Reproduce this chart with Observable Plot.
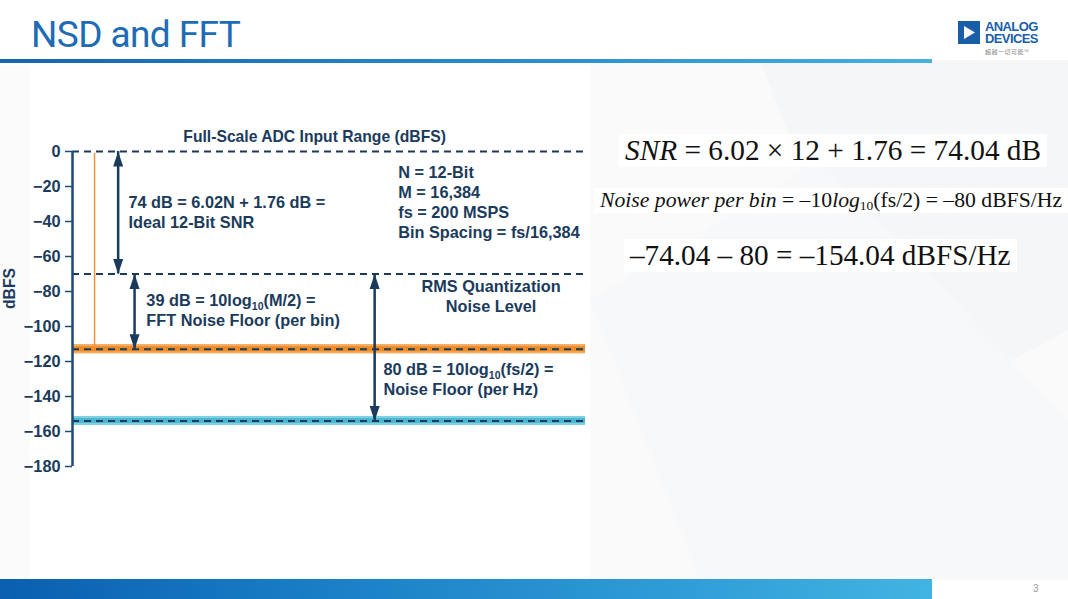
<!DOCTYPE html>
<html><head><meta charset="utf-8">
<script src="https://cdn.jsdelivr.net/npm/d3@7"></script>
<script src="https://cdn.jsdelivr.net/npm/@observablehq/plot@0.6"></script>
<style>
html,body{margin:0;padding:0;}
body{width:1068px;height:599px;position:relative;overflow:hidden;background:#fff;font-family:"Liberation Sans",Arial,sans-serif;}
#bg{position:absolute;left:0;top:0;}
#title{position:absolute;left:31px;top:13px;font-family:Roboto,"Liberation Sans",sans-serif;font-size:37px;color:#1e6cb5;letter-spacing:-0.6px;white-space:nowrap;}
#rule{position:absolute;left:0;top:59px;width:932px;height:4px;background:linear-gradient(90deg,#1565b0,#2a8fd0 60%,#46b2e2);}
#footer{position:absolute;left:0;top:579px;width:932px;height:20px;background:linear-gradient(90deg,#0a5fb0,#1a7fc6 35%,#2e9ad6 70%,#42b4e2);}
#page{position:absolute;left:1033px;top:583px;font-size:10px;color:#999;}
#logo{position:absolute;left:958px;top:21px;}
#logo .sq{position:absolute;left:0;top:0;width:22px;height:23px;background:#1a5ea8;}
#logo .tx{position:absolute;left:27px;font-weight:bold;font-size:13px;line-height:11px;height:11px;color:#1a5ea8;letter-spacing:-0.6px;white-space:nowrap;}
#logo .t1{top:0px;}
#logo .t2{top:11.5px;}
#logo .cn{position:absolute;left:27px;top:27px;font-family:"Noto Sans CJK SC",sans-serif;font-size:6px;line-height:7px;color:#888;white-space:nowrap;letter-spacing:0.5px;}
#chart{position:absolute;left:0;top:120px;}
.eq{position:absolute;font-family:"Liberation Serif","Times New Roman",serif;color:#111;white-space:nowrap;background:#fff;padding:0 6px;}
#eq1{left:619px;top:134px;font-size:29.3px;}
#eq2{left:594px;top:188px;font-size:21.7px;}
#eq3{left:624px;top:239px;font-size:29.2px;}
.eq sub{font-size:0.62em;vertical-align:-0.25em;line-height:0;}
</style></head><body>
<svg id="bg" width="1068" height="599">
  <polygon points="590,60 1068,60 1068,580 590,580" fill="#fafafb"/>
  <polygon points="760,60 1068,60 1068,330 900,420" fill="#f5f6f7"/>
  <polygon points="590,300 820,160 1068,420 1068,580 700,580" fill="#f7f8f9"/>
  <polygon points="0,65 30,65 30,580 0,580" fill="#fbfbfc"/>
</svg>
<div id="title">NSD and FFT</div>
<div id="rule"></div>
<div id="logo">
  <div class="sq"><svg width="22" height="23"><polygon points="6,5 17,11.5 6,18" fill="#fff"/></svg></div>
  <div class="tx t1">ANALOG</div>
  <div class="tx t2">DEVICES</div>
  <div class="cn">超越一切可能™</div>
</div>
<div id="chart"></div>
<div class="eq" id="eq1"><i>SNR</i> = 6.02 × 12 + 1.76 = 74.04 dB</div>
<div class="eq" id="eq2"><i>Noise power per bin</i> = –10<i>log</i><sub>10</sub>(fs/2) = –80 dBFS/Hz</div>
<div class="eq" id="eq3">–74.04 – 80 = –154.04 dBFS/Hz</div>
<div id="footer"></div>
<div id="page">3</div>
<script>
// ---- data (x in MHz across 0..fs/2 = 100 MHz, y in dBFS) ----
const yTicks = [0, -20, -40, -60, -80, -100, -120, -140, -160, -180];
const levelNames = ["Full scale", "RMS quantization noise", "FFT noise floor (per bin)", "Noise floor (per Hz)"];
const levelValues = [0, -70, -113, -154];
const noiseNames = ["FFT (per bin)", "NSD (per Hz)"];
const noiseLevels = [-113, -154];
const noiseSpread = [2.7, 2.6];
const toneFreq = [4.3];
const toneTop = [-1];
const arrowFreq = [8.9, 12.1, 58.9];
const arrowFrom = [0, -70, -70];
const arrowTo = [-70, -113, -154];
const headingText = ["Full-Scale ADC Input Range (dBFS)"];
const headingFreq = [47.2];
const headingLevel = [9.2];
const noteText = [
  "74 dB = 6.02N + 1.76 dB =\nIdeal 12-Bit SNR",
  "N = 12-Bit\nM = 16,384\nfs = 200 MSPS\nBin Spacing = fs/16,384",
  "39 dB = 10log10(M/2) =\nFFT Noise Floor (per bin)",
  "RMS Quantization\nNoise Level",
  "80 dB = 10log10(fs/2) =\nNoise Floor (per Hz)"
];
const noteFreq = [10.9, 63.5, 14.4, 81.6, 60.6];
const noteLevel = [-34.6, -28.6, -90.3, -82.6, -129.7];
const noteCentered = [false, false, false, true, false];

// ---- build tables ----
const levels = levelNames.map((n, i) => ({name: n, y: levelValues[i]}));
const noise = noiseNames.map((n, i) => ({name: n, y: noiseLevels[i], s: noiseSpread[i]}));
const tone = toneFreq.map((f, i) => ({x: f, top: toneTop[i], bottom: noiseLevels[0]}));
const arrows = arrowFreq.map((f, i) => ({x: f, from: arrowFrom[i], to: arrowTo[i]}));
const heading = headingText.map((t, i) => ({t, x: headingFreq[i], y: headingLevel[i]}));
const notes = noteText.map((t, i) => ({t, x: noteFreq[i], y: noteLevel[i], c: noteCentered[i]}));

const navy = "#1b3b5c";
const headUp = {draw(ctx) { ctx.moveTo(0, 0); ctx.lineTo(5, 15); ctx.lineTo(-5, 15); ctx.closePath(); }};
const headDown = {draw(ctx) { ctx.moveTo(0, 0); ctx.lineTo(5, -15); ctx.lineTo(-5, -15); ctx.closePath(); }};
const noiseFill = ["#f29a3c", "#62c4da"];
const noiseCore = ["#ee8b25", "#4ab6d0"];
const textOpts = {x: "x", y: "y", text: "t", lineHeight: 1.23, fill: navy, fontSize: 16.3, fontWeight: "bold"};

const plot = Plot.plot({
  width: 600,
  height: 360,
  marginLeft: 72,
  marginRight: 15,
  marginTop: 31,
  marginBottom: 14,
  style: {fontFamily: "'Liberation Sans', Arial, sans-serif", fontSize: "15px", fontWeight: "bold", color: navy, background: "transparent", overflow: "visible"},
  x: {domain: [0, 100], axis: null},
  y: {domain: [-180, 0], axis: null},
  marks: [
    Plot.axisY({ticks: yTicks, tickSize: 7, tickPadding: 5, label: null, fontSize: 16.3, fontWeight: "bold", stroke: "#1f4a78", strokeWidth: 1.5}),
    Plot.rect(noise, {x1: 0, x2: 100, y1: d => d.y - d.s, y2: d => d.y + d.s, fill: (d, i) => noiseFill[i], fillOpacity: 0.8}),
    Plot.rect(noise, {x1: 0, x2: 100, y1: d => d.y - d.s * 0.55, y2: d => d.y + d.s * 0.55, fill: (d, i) => noiseCore[i]}),
    Plot.ruleX(tone, {x: "x", y1: "bottom", y2: "top", stroke: "#f0923a", strokeWidth: 1.5}),
    Plot.ruleY(levels, {y: "y", x1: 0, x2: 100, stroke: navy, strokeWidth: 1.8, strokeDasharray: "7,5"}),
    Plot.ruleX([0], {y1: -180, y2: 0, stroke: "#1f4a78", strokeWidth: 2.5}),
    Plot.ruleX(arrows, {x: "x", y1: "from", y2: "to", stroke: navy, strokeWidth: 2.5}),
    Plot.dot(arrows, {x: "x", y: "from", symbol: headUp, fill: navy, r: 5}),
    Plot.dot(arrows, {x: "x", y: "to", symbol: headDown, fill: navy, r: 5}),
    Plot.text(heading, {...textOpts, fontSize: 15.7, textAnchor: "middle"}),
    Plot.text(notes.filter(d => d.c), {...textOpts, textAnchor: "middle"}),
    Plot.text(notes.filter(d => !d.c), {...textOpts, textAnchor: "start"}),
    Plot.text(["dBFS"], {frameAnchor: "left", dx: -63, rotate: -90, fill: navy, fontSize: 15.7, fontWeight: "bold"})
  ]
});

// subscript the "10" of log10
d3.select(plot).selectAll("text, tspan").each(function () {
  if (this.children.length) return;
  const t = this.textContent;
  const i = t.indexOf("log10");
  if (i < 0) return;
  const s = d3.select(this);
  s.text(null);
  s.append("tspan").text(t.slice(0, i + 3));
  s.append("tspan").attr("dy", 4).attr("font-size", 10.5).text("10");
  s.append("tspan").attr("dy", -4).text(t.slice(i + 5));
});
document.getElementById("chart").appendChild(plot);
</script>
</body></html>
